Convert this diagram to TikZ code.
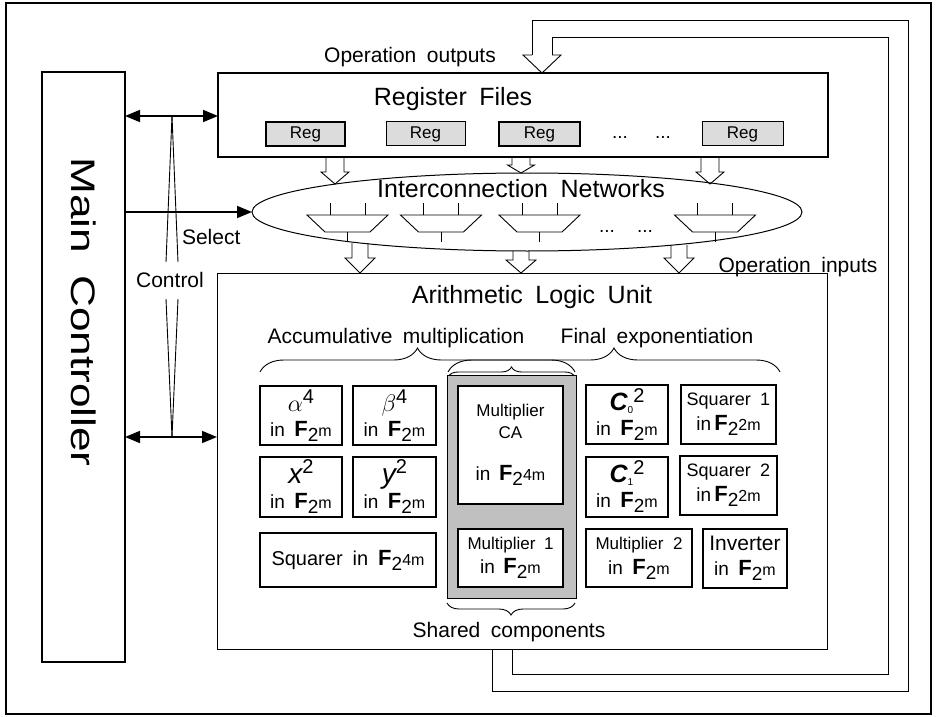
\documentclass[tikz,border=0pt]{standalone}
\usepackage{fontspec}
\setmainfont{Liberation Sans}
\usetikzlibrary{shapes.geometric,arrows.meta,decorations.pathreplacing}
\definecolor{regfill}{HTML}{DCDCDC}
\definecolor{sharedfill}{HTML}{C0C0C0}
\newcommand\fsz[2]{\fontsize{#1}{#2}\selectfont}
% field notation: bold F with a lowered 2 and its exponent
\newcommand\GF[1]{{\fsz{11}{11}\bfseries F}\raisebox{-2.5pt}{\fsz{9.5}{9.5}2}{\fsz{8}{8}#1}}
% hollow block arrow: centre x, top y, head base y, tip y, shaft width, head width
\newcommand\harrow[6]{\draw[pipe] ({#1-#5/2},#2) -- ({#1-#5/2},#3) -- ({#1-#6/2},#3) -- (#1,#4) -- ({#1+#6/2},#3) -- ({#1+#5/2},#3) -- ({#1+#5/2},#2);}
% multiplexer symbol centred at x
\newcommand\muxat[1]{%
  \draw[thinln] ({#1-40.5},215) -- ({#1+40.5},215) -- ({#1+22.5},232) -- ({#1-22.5},232) -- cycle;
  \draw[thinln] ({#1-17.5},203) -- ({#1-17.5},215);
  \draw[thinln] ({#1+17.5},203) -- ({#1+17.5},215);
  \draw[thinln] (#1,232) -- (#1,242);}
\begin{document}
\begin{tikzpicture}[x=0.5pt,y=-0.5pt,
  every node/.style={inner sep=0pt,outer sep=0pt},
  execute at begin node={\spaceskip=0.5em plus 0.1em\relax},
  blk/.style={draw,line width=0.55pt,fill=white,align=center,font=\fsz{9.5}{12.5}},
  regbox/.style={draw,fill=regfill,minimum width=39.5pt,minimum height=12pt,font=\fsz{8.5}{10}},
  pipe/.style={line width=0.45pt},
  thinln/.style={line width=0.45pt},
  dbl/.style={line width=0.8pt,{Triangle[length=7.5pt,width=6pt]}-{Triangle[length=7.5pt,width=6pt]}},
  sel/.style={line width=0.8pt,-{Triangle[length=7.5pt,width=6pt]}},
  title/.style={font=\fsz{12.5}{14}},
  lbl/.style={font=\fsz{10.5}{12}},
  brc/.style={decorate,decoration={brace,amplitude=#1},line width=0.45pt}
]
\useasboundingbox (0,0) rectangle (937,717);
\draw[line width=1.2pt] (6,3) rectangle (931,714);

% main controller
\node[draw,line width=0.55pt,minimum width=41.5pt,minimum height=295pt] (mc) at (83.5,367) {};
\node[rotate=-90,font=\fsz{17}{17}] (mctext) at (83.5,312) {\scalebox{1.3}[1]{Main Controller}};

% register files
\node[draw,line width=0.75pt,minimum width=305pt,minimum height=42pt] (rf) at (523,115) {};
\node[title,anchor=base] (rftitle) at (453,105) {Register Files};
\node[regbox,line width=0.8pt] (r1) at (305.5,134) {Reg};
\node[regbox,line width=0.5pt] (r2) at (425.5,134) {Reg};
\node[regbox,line width=0.8pt,minimum width=40.5pt] (r3) at (539.5,134) {Reg};
\node[regbox,line width=0.5pt,minimum width=40.5pt] (r4) at (742.5,134) {Reg};
\node[font=\fsz{9.5}{10},anchor=base] (rd1) at (620,139) {...};
\node[font=\fsz{9.5}{10},anchor=base] (rd2) at (663,139) {...};

% feedback pipe from the ALU back to the register files
\draw[pipe] (532,55) -- (532,20) -- (908,20) -- (908,691) -- (492,691) -- (492,649);
\draw[pipe] (552,55) -- (552,37) -- (888,37) -- (888,674) -- (512,674) -- (512,649);
\draw[pipe] (532,55) -- (523,55) -- (542,73) -- (561,55) -- (552,55);
\node[lbl,anchor=base] (opout) at (410,63) {Operation outputs};

% interconnection networks
\node[ellipse,draw,line width=0.5pt,minimum width=275pt,minimum height=39pt] (net) at (527,212) {};
\node[title,anchor=base] (nettitle) at (521,198) {Interconnection Networks};
\muxat{347.5}
\muxat{441}
\muxat{539.5}
\muxat{715}
\node[font=\fsz{9.5}{10},anchor=base] (nd1) at (607,232) {...};
\node[font=\fsz{9.5}{10},anchor=base] (nd2) at (645,232) {...};

% block arrows register -> network -> ALU
\harrow{335}{157}{172}{184}{18}{28}
\harrow{521}{157}{165}{173}{18}{27}
\harrow{710}{157}{172}{184}{18}{28}
\harrow{360}{243}{258}{273}{16}{30}
\harrow{521}{251}{260}{273}{16}{30}
\harrow{679}{245}{258}{273}{16}{30}
\node[lbl,anchor=base] (opin) at (798,272) {Operation inputs};

% arithmetic logic unit
\node[draw,line width=0.5pt,minimum width=305pt,minimum height=188pt] (alu) at (522,461) {};
\node[title,anchor=base] (alutitle) at (532,303) {Arithmetic Logic Unit};
\node[lbl,anchor=base] (accm) at (396,343) {Accumulative multiplication};
\node[lbl,anchor=base] (fexp) at (657,343) {Final exponentiation};
\draw[brc=12pt] (260,372) -- (575,372);
\draw[brc=12pt] (448,372) -- (780,372);
\draw[brc=5pt] (448,377) -- (575,377);

\node[draw,line width=0.5pt,fill=sharedfill,minimum width=64.5pt,minimum height=111.5pt] (shared) at (511.5,486.5) {};
\draw[brc=6pt] (575,603) -- (447,603);
\node[lbl,anchor=base] (shtext) at (509,637) {Shared components};

% left group
\node[blk,minimum width=41pt,minimum height=29.5pt] (alpha) at (301,415.5)
  {{\fsz{13}{13}$\alpha$}\raisebox{4pt}{\fsz{10}{10}4}\\in \GF{m}};
\node[blk,minimum width=41.5pt,minimum height=29.5pt] (beta) at (394.5,415.5)
  {{\fsz{13}{13}$\beta$}\raisebox{4pt}{\fsz{10}{10}4}\\in \GF{m}};
\node[blk,minimum width=41pt,minimum height=30pt] (xsq) at (301,487)
  {{\fsz{14}{14}\itshape x}\raisebox{5pt}{\fsz{10}{10}2}\\in \GF{m}};
\node[blk,minimum width=41.5pt,minimum height=30pt] (ysq) at (394.5,487)
  {{\fsz{14}{14}\itshape y}\raisebox{5pt}{\fsz{10}{10}2}\\in \GF{m}};
\node[blk,minimum width=88pt,minimum height=27pt,font=\fsz{10}{12}] (sq4) at (348,560)
  {Squarer in \GF{4m}};

% shared components
\node[blk,minimum width=52.5pt,minimum height=59pt,font=\fsz{8.5}{11}] (mca) at (510.5,445)
  {Multiplier\\CA\\[10pt]{\fsz{9.5}{11}in \GF{4m}}};
\node[blk,minimum width=52.5pt,minimum height=29pt,font=\fsz{8.5}{12}] (mul1) at (510.5,558)
  {Multiplier 1\\{\fsz{9.5}{11}in \GF{m}}};

% right group
\node[blk,minimum width=41pt,minimum height=29.5pt] (cz) at (627,414.5)
  {{\fsz{12.5}{12.5}\bfseries\itshape C}\raisebox{-1.5pt}{\fsz{5}{5}0}\raisebox{4pt}{\fsz{10}{10}2}\\in \GF{m}};
\node[blk,minimum width=47.5pt,minimum height=29.5pt] (sq1) at (728.5,414.5)
  {{\fsz{9}{9}Squarer 1}\\in\,\GF{2m}};
\node[blk,minimum width=41pt,minimum height=30pt] (co) at (627,487)
  {{\fsz{12.5}{12.5}\bfseries\itshape C}\raisebox{-1.5pt}{\fsz{5}{5}1}\raisebox{4pt}{\fsz{10}{10}2}\\in \GF{m}};
\node[blk,minimum width=48.5pt,minimum height=29.5pt] (sq2) at (728.5,485.5)
  {{\fsz{9}{9}Squarer 2}\\in\,\GF{2m}};
\node[blk,minimum width=53pt,minimum height=29pt] (mul2) at (639,558)
  {{\fsz{8.5}{8.5}Multiplier 2}\\in \GF{m}};
\node[blk,minimum width=42pt,minimum height=29.5pt] (inv) at (745,558.5)
  {{\fsz{10.5}{10.5}Inverter}\\in \GF{m}};

% control and select signals
\coordinate (ctop) at (172,116);
\coordinate (cbot) at (172,437);
\draw[dbl] (mc.east |- ctop) -- (rf.west |- ctop);
\draw[dbl] (mc.east |- cbot) -- (alu.west |- cbot);
\draw[sel] (mc.east |- net.west) -- (net.west);
\node[lbl,anchor=base] (ctl) at (170,287) {Control};
\node[lbl,anchor=base west] (seltext) at (182,244) {Select};
\draw[thinln] (ctop) -- (166,262);
\draw[thinln] (ctop) -- (178,262);
\draw[thinln] (166,299) -- (cbot);
\draw[thinln] (178,299) -- (cbot);
\end{tikzpicture}
\end{document}
